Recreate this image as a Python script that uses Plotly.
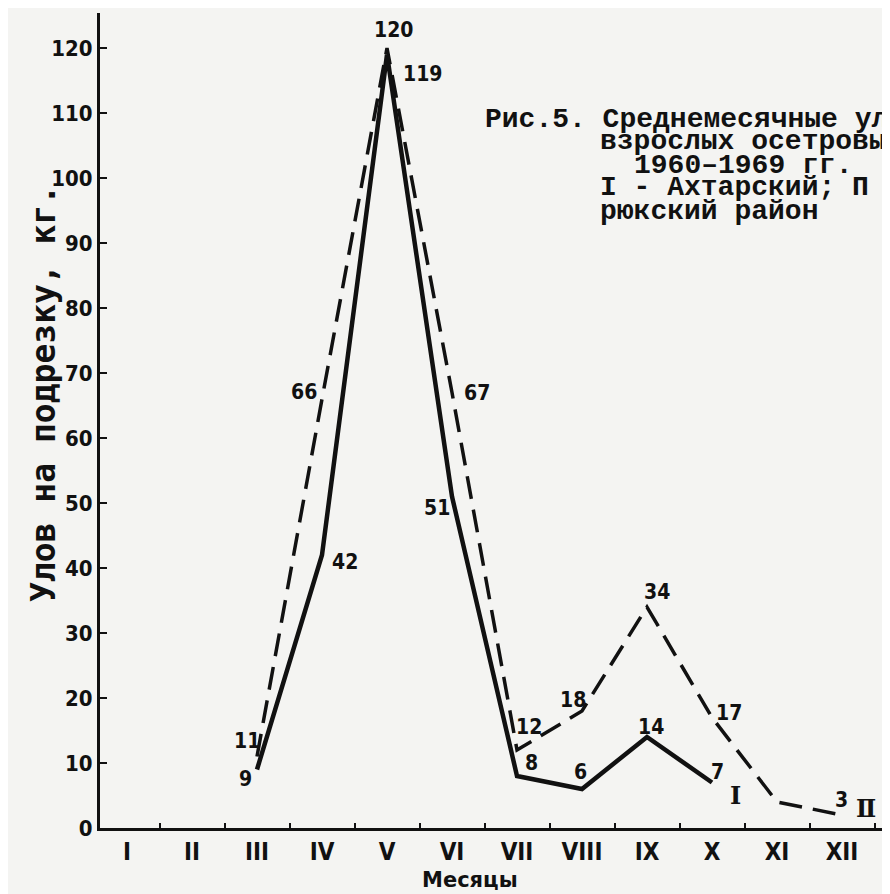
import plotly.graph_objects as go

# ---- data -------------------------------------------------------------
months = ["I", "II", "III", "IV", "V", "VI", "VII", "VIII", "IX", "X", "XI", "XII"]
month_pos = list(range(1, 13))

# Series I — Ахтарский район (solid)
akhtar_vals = [None, None, 9, 42, 119, 51, 8, 6, 14, 7, None, None]
akhtar_lbls = [None, None, "9", "42", "119", "51", "8", "6", "14", "7", None, None]

# Series II — Темрюкский район (dashed)
temr_vals = [None, None, 11, 66, 120, 67, 12, 18, 34, 17, 4, 2]
temr_lbls = [None, None, "11", "66", "120", "67", "12", "18", "34", "17", None, "3"]

y_ticks = [0, 10, 20, 30, 40, 50, 60, 70, 80, 90, 100, 110, 120]

# ---- style / placement -------------------------------------------------
# pixel offsets of value labels from their points
akhtar_off = [None, None, (-12, -9), (23, -7), (35, -19), (-15, -11), (14, 13), (-2, 17), (4, 10), (5, 11), None, None]
temr_off = [None, None, (-10, 16), (-18, 7), (6, 18), (25, 0), (12, 23), (-9, 11), (10, 15), (17, 5), None, (-1, 15)]

# The browser page has an 8px body margin: lay the figure out in page pixels
# and subtract it.
PAGE_OFF = 8
W, H = 890 - PAGE_OFF, 894 - PAGE_OFF
ML, MR, MT, MB = 100 - PAGE_OFF, 0, 13 - PAGE_OFF, 894 - 828
PW, PH = W - ML - MR, H - MT - MB
X_STEP = 65.0     # px per month
Y_STEP = 6.5      # px per unit
X_FIRST = 127     # page px of month I

def px2paper_x(px):
    return (px - PAGE_OFF - ML) / PW

def px2paper_y(py):
    return (H - MB - (py - PAGE_OFF)) / PH

BG = "#f4f4f2"
INK = "#111111"
NUM_FONT = "Liberation Sans Narrow, DejaVu Sans Condensed, Arial Narrow, sans-serif"
TYPE_FONT = "Liberation Mono, Courier New, monospace"

fig = go.Figure()

fig.add_trace(go.Scatter(
    x=month_pos, y=temr_vals, mode="lines", connectgaps=False,
    line=dict(color=INK, width=3.5, dash="23px,11px"),
    name="II", showlegend=False, hoverinfo="skip"))

fig.add_trace(go.Scatter(
    x=month_pos, y=akhtar_vals, mode="lines", connectgaps=False,
    line=dict(color=INK, width=4.5),
    name="I", showlegend=False, hoverinfo="skip"))

annotations = []
for vals, lbls, offs in ((akhtar_vals, akhtar_lbls, akhtar_off), (temr_vals, temr_lbls, temr_off)):
    for m, v, t, o in zip(month_pos, vals, lbls, offs):
        if t is None or v is None:
            continue
        annotations.append(dict(
            x=m, y=v, xref="x", yref="y", text="<b>%s</b>" % t, showarrow=False,
            xanchor="center", yanchor="middle",
            xshift=o[0], yshift=o[1],
            font=dict(family=NUM_FONT, size=21, color=INK)))

# series markers I / II
annotations.append(dict(x=10, y=akhtar_vals[9], xref="x", yref="y", text="<b>Ⅰ</b>",
                        showarrow=False, xanchor="center", yanchor="middle",
                        xshift=23, yshift=-13,
                        font=dict(family="DejaVu Serif, serif", size=24, color=INK)))
annotations.append(dict(x=12, y=temr_vals[11], xref="x", yref="y", text="<b>Ⅱ</b>",
                        showarrow=False, xanchor="center", yanchor="middle",
                        xshift=24, yshift=7,
                        font=dict(family="DejaVu Serif, serif", size=24, color=INK)))

# axis titles
annotations.append(dict(x=px2paper_x(43), y=px2paper_y(394), xref="paper", yref="paper",
                        xanchor="center", yanchor="middle",
                        text="<b>Улов на подрезку, кг.</b>", textangle=-90, showarrow=False,
                        font=dict(family="DejaVu Sans Mono, monospace", size=33, color=INK)))
annotations.append(dict(x=px2paper_x(470), y=px2paper_y(880), xref="paper", yref="paper",
                        xanchor="center", yanchor="middle",
                        text="<b>Месяцы</b>", showarrow=False,
                        font=dict(family="DejaVu Sans, sans-serif", size=21, color=INK)))

# figure caption (typewritten, runs past the right edge)
caption = [
    (483, 119, "Рис.5. Среднемесячные уловы"),
    (598, 142, "взрослых осетровых"),
    (632, 165, "1960–1969 гг."),
    (598, 188, "I - Ахтарский; П - Тем-"),
    (598, 211, "рюкский район"),
]
for cx, cy, t in caption:
    annotations.append(dict(x=px2paper_x(cx), y=px2paper_y(cy), xref="paper", yref="paper",
                            xanchor="left", yanchor="middle", text="<b>%s</b>" % t,
                            showarrow=False,
                            font=dict(family=TYPE_FONT, size=28, color=INK)))

x_lo = 1 - (X_FIRST - 100) / X_STEP
x_hi = 1 + (890 - X_FIRST) / X_STEP

fig.update_layout(
    width=W, height=H,
    margin=dict(l=ML, r=MR, t=MT, b=MB),
    paper_bgcolor=BG, plot_bgcolor=BG,
    showlegend=False,
    annotations=annotations,
    xaxis=dict(
        range=[x_lo, x_hi], tickmode="array", tickvals=month_pos, ticktext=["<b>%s</b>" % m for m in months],
        ticks="", showgrid=False, zeroline=False,
        showline=True, linecolor=INK, linewidth=3,
        tickfont=dict(family=NUM_FONT, size=24, color=INK),
        ticklabelstandoff=0,
        minor=dict(tickmode="array", tickvals=[m + 0.5 for m in month_pos],
                   ticks="inside", ticklen=5, tickwidth=2, tickcolor=INK, showgrid=False),
    ),
    yaxis=dict(
        range=[0, PH / Y_STEP], tickmode="array", tickvals=y_ticks,
        ticktext=["<b>%d</b>" % v for v in y_ticks],
        ticks="inside", ticklen=7, tickwidth=2, tickcolor=INK,
        showgrid=False, zeroline=False,
        showline=True, linecolor=INK, linewidth=3,
        tickfont=dict(family=NUM_FONT, size=22, color=INK),
        ticklabelstandoff=0,
    ),
)

fig.write_html("out.html")
